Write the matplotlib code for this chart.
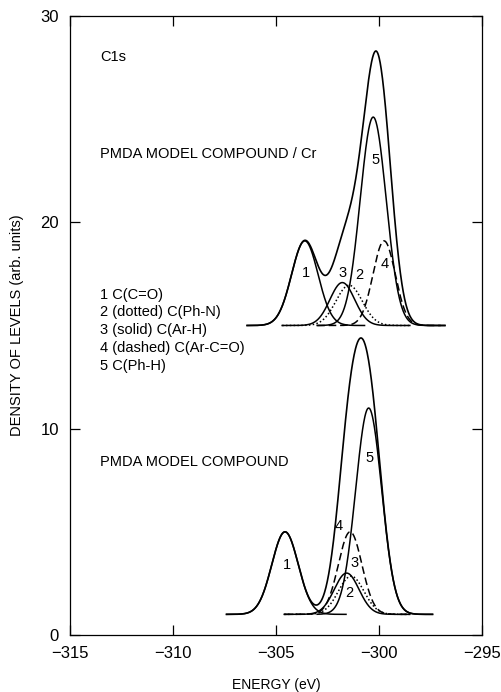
import numpy as np
import matplotlib
matplotlib.use("Agg")
import matplotlib.pyplot as plt

plt.rcParams['font.family'] = ['Liberation Sans', 'DejaVu Sans']

# peak parameters: label, centre (eV), height, width (sigma, eV)
peak_labels = ["1", "2", "3", "4", "5"]
peak_styles = ["-", ":", "-", "--", "-"]

# PMDA model compound (baseline 1)
base_low = 1.0
centre_low = [-304.56, -301.35, -301.57, -301.40, -300.50]
height_low = [4.0, 1.85, 2.0, 4.0, 10.0]
sigma_low = [0.64, 0.62, 0.60, 0.57, 0.63]
range_low = [(-307.4, -301.6), (-304.6, -298.5), (-304.6, -298.5), (-304.6, -298.5), (-303.0, -297.4)]
total_low = (-307.4, -297.4)
lab_pos_low = [(-304.48, 3.39), (-301.44, 2.02), (-301.17, 3.48), (-301.94, 5.3), (-300.44, 8.56)]

# PMDA model compound / Cr (baseline 15)
base_cr = 15.0
centre_cr = [-303.60, -301.45, -301.78, -299.75, -300.28]
height_cr = [4.1, 1.95, 2.08, 4.1, 10.1]
sigma_cr = [0.64, 0.64, 0.60, 0.54, 0.63]
range_cr = [(-306.4, -300.7), (-304.7, -298.5), (-304.7, -298.5), (-303.0, -297.0), (-303.0, -296.8)]
total_cr = (-306.4, -296.8)
lab_pos_cr = [(-303.56, 17.56), (-300.97, 17.45), (-301.77, 17.56), (-299.74, 18.0), (-300.19, 23.0)]

legend_lines = ["1 C(C=O)", "2 (dotted) C(Ph-N)", "3 (solid) C(Ar-H)",
                "4 (dashed) C(Ar-C=O)", "5 C(Ph-H)"]


def gauss(x, c, h, s):
    return h * np.exp(-(x - c) ** 2 / (2 * s ** 2))


def draw_set(ax, base, centres, heights, sigmas, ranges, trange, lab_pos):
    for c, h, s, r, st in zip(centres, heights, sigmas, ranges, peak_styles):
        x = np.linspace(r[0], r[1], 400)
        ls = st
        if st == "--":
            ls = (0, (5, 2.5))
        if st == ":":
            ls = (0, (1, 1.5))
        ax.plot(x, base + gauss(x, c, h, s), color="black", lw=1.1, ls=ls)
    x = np.linspace(trange[0], trange[1], 600)
    tot = np.zeros_like(x)
    for c, h, s in zip(centres, heights, sigmas):
        tot += gauss(x, c, h, s)
    ax.plot(x, base + tot, color="black", lw=1.2)
    for lab, (lx, ly) in zip(peak_labels, lab_pos):
        ax.text(lx, ly, lab, ha="center", va="center", fontsize=10.5)


fig = plt.figure(figsize=(5.01, 6.92), dpi=100)
ax = fig.add_axes([0.1397, 0.0824, 0.8223, 0.8945])

draw_set(ax, base_low, centre_low, height_low, sigma_low, range_low, total_low, lab_pos_low)
draw_set(ax, base_cr, centre_cr, height_cr, sigma_cr, range_cr, total_cr, lab_pos_cr)

txt = 10.5
ax.text(-313.55, 28.0, "C1s", fontsize=txt, va="center")
ax.text(-313.55, 23.3, "PMDA MODEL COMPOUND / Cr", fontsize=txt, va="center")
for i, line in enumerate(legend_lines):
    ax.text(-313.55, 16.5 - i * 0.87, line, fontsize=txt, va="center")
ax.text(-313.55, 8.4, "PMDA MODEL COMPOUND", fontsize=txt, va="center")

ax.set_xlim(-315, -295)
ax.set_ylim(0, 30)
ax.set_xticks([-315, -310, -305, -300, -295])
ax.set_yticks([0, 10, 20, 30])
ax.tick_params(direction="in", length=7, width=0.9, top=True, right=True, labelsize=12, pad=8)
for sp in ax.spines.values():
    sp.set_linewidth(0.9)
ax.set_xlabel("ENERGY (eV)", fontsize=10, labelpad=12)
ax.set_ylabel("DENSITY OF LEVELS (arb. units)", fontsize=10.5, labelpad=12)

fig.savefig("out.png", dpi=100)
